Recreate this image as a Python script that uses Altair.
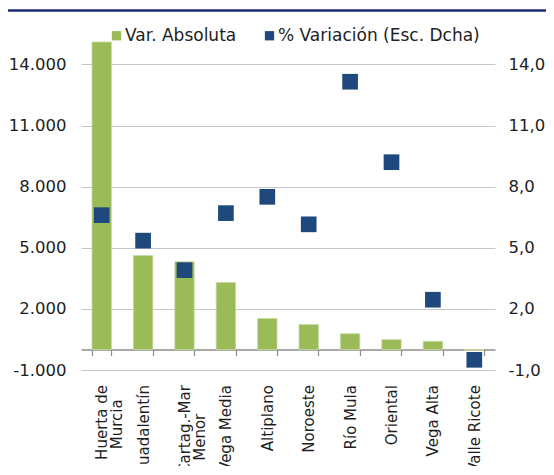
import altair as alt
import pandas as pd

# ---- data ----
categories = ["Huerta de\nMurcia", "Guadalentín", "Cartag.-Mar\nMenor", "Vega Media",
              "Altiplano", "Noroeste", "Río Mula", "Oriental", "Vega Alta", "Valle Ricote"]
var_absoluta = [15100, 4620, 4310, 3300, 1530, 1230, 780, 490, 410, -30]
var_pct = [6.6, 5.35, 3.9, 6.7, 7.5, 6.15, 13.15, 9.2, 2.45, -0.5]
series_names = ["Var. Absoluta", "% Variación (Esc. Dcha)"]
left_ticks = [-1000, 2000, 5000, 8000, 11000, 14000]
right_ticks = [-1.0, 2.0, 5.0, 8.0, 11.0, 14.0]


def centered_label(cat):
    # Excel centres the lines of a wrapped label: pad the shorter line with
    # no-break spaces, closed by a word joiner so that they are not trimmed
    if "\n" not in cat:
        return cat
    a, b = cat.split("\n")
    diff = len(a) - len(b)
    n = round(abs(diff) * 0.95)
    if diff > 0:
        b = b + "\u00a0" * n + "\u2060"
    else:
        a = a + "\u00a0" * n + "\u2060"
    return a + "\n" + b


labels = [centered_label(c) for c in categories]
df = pd.DataFrame({"label": labels, "abs": var_absoluta, "pct": var_pct})

FONT = "DejaVu Sans"
GREEN = "#9BBB59"
NAVY = "#1F497D"
TXT = "#1e1e1e"

color_scale = alt.Scale(domain=series_names, range=[GREEN, NAVY])
legend = alt.Legend(
    title=None, orient="none", direction="horizontal", legendX=27, legendY=-15,
    symbolType="square", symbolSize=86, symbolStrokeWidth=0, labelFontSize=17,
    labelFont=FONT, labelColor=TXT, columnPadding=24, labelOffset=0,
    padding=0, labelLimit=400,
)

base = alt.Chart(df).encode(
    x=alt.X(
        "label:N", sort=labels,
        scale=alt.Scale(paddingInner=0.53, paddingOuter=0.265),
        axis=alt.Axis(
            title=None, labelAngle=-90, labelFontSize=15, labelFont=FONT, labelColor=TXT,
            labelExpr="split(datum.label, '\\n')", labelLineHeight=15,
            offset=-20.4, tickBand="extent", tickSize=6, tickColor="#8c8c8c",
            domainColor="#8c8c8c", domainWidth=1.5, tickWidth=1.2, labelPadding=29,
        ),
    )
)

bars = base.transform_calculate(series="'Var. Absoluta'").mark_bar(
    stroke="#c9dca4", strokeWidth=0.8
).encode(
    y=alt.Y(
        "abs:Q",
        scale=alt.Scale(domain=[-1000, 15100], nice=False, zero=False),
        axis=alt.Axis(
            title=None, values=left_ticks, grid=True, gridColor="#c6c6c6", gridWidth=1,
            domain=False, ticks=False, labelPadding=15, labelFontSize=16.5, labelFont=FONT,
            labelColor=TXT,
            labelExpr="replace(replace(format(datum.value, ',.0f'), ',', '.'), '\u2212', '-')",
        ),
    ),
    color=alt.Color("series:N", scale=color_scale, legend=legend),
)

points = base.transform_calculate(series="'% Variación (Esc. Dcha)'").mark_square(
    size=246, opacity=1
).encode(
    y=alt.Y(
        "pct:Q",
        scale=alt.Scale(domain=[-1.0, 15.1], nice=False, zero=False),
        axis=alt.Axis(
            title=None, orient="right", values=right_ticks, grid=False, domain=False,
            ticks=False, labelPadding=13, labelFontSize=16.5, labelFont=FONT, labelColor=TXT,
            labelExpr="replace(replace(format(datum.value, '.1f'), '.', ','), '\u2212', '-')",
        ),
    ),
    color=alt.Color("series:N", scale=color_scale, legend=legend),
)

top_rule = alt.Chart(pd.DataFrame({"k": [0]})).mark_rule(
    color="#1F2A6E", strokeWidth=2.5
).encode(x=alt.value(-75), x2=alt.value(480), y=alt.value(-31.4))

chart = (
    alt.layer(bars, points, top_rule)
    .resolve_scale(y="independent")
    .properties(
        width=414, height=328,
        autosize=alt.AutoSizeParams(type="none"),
        padding={"left": 73, "top": 34, "right": 51, "bottom": 96},
    )
    .configure_view(stroke=None)
)

chart.save("out.html", embed_options={"renderer": "svg", "actions": False})
